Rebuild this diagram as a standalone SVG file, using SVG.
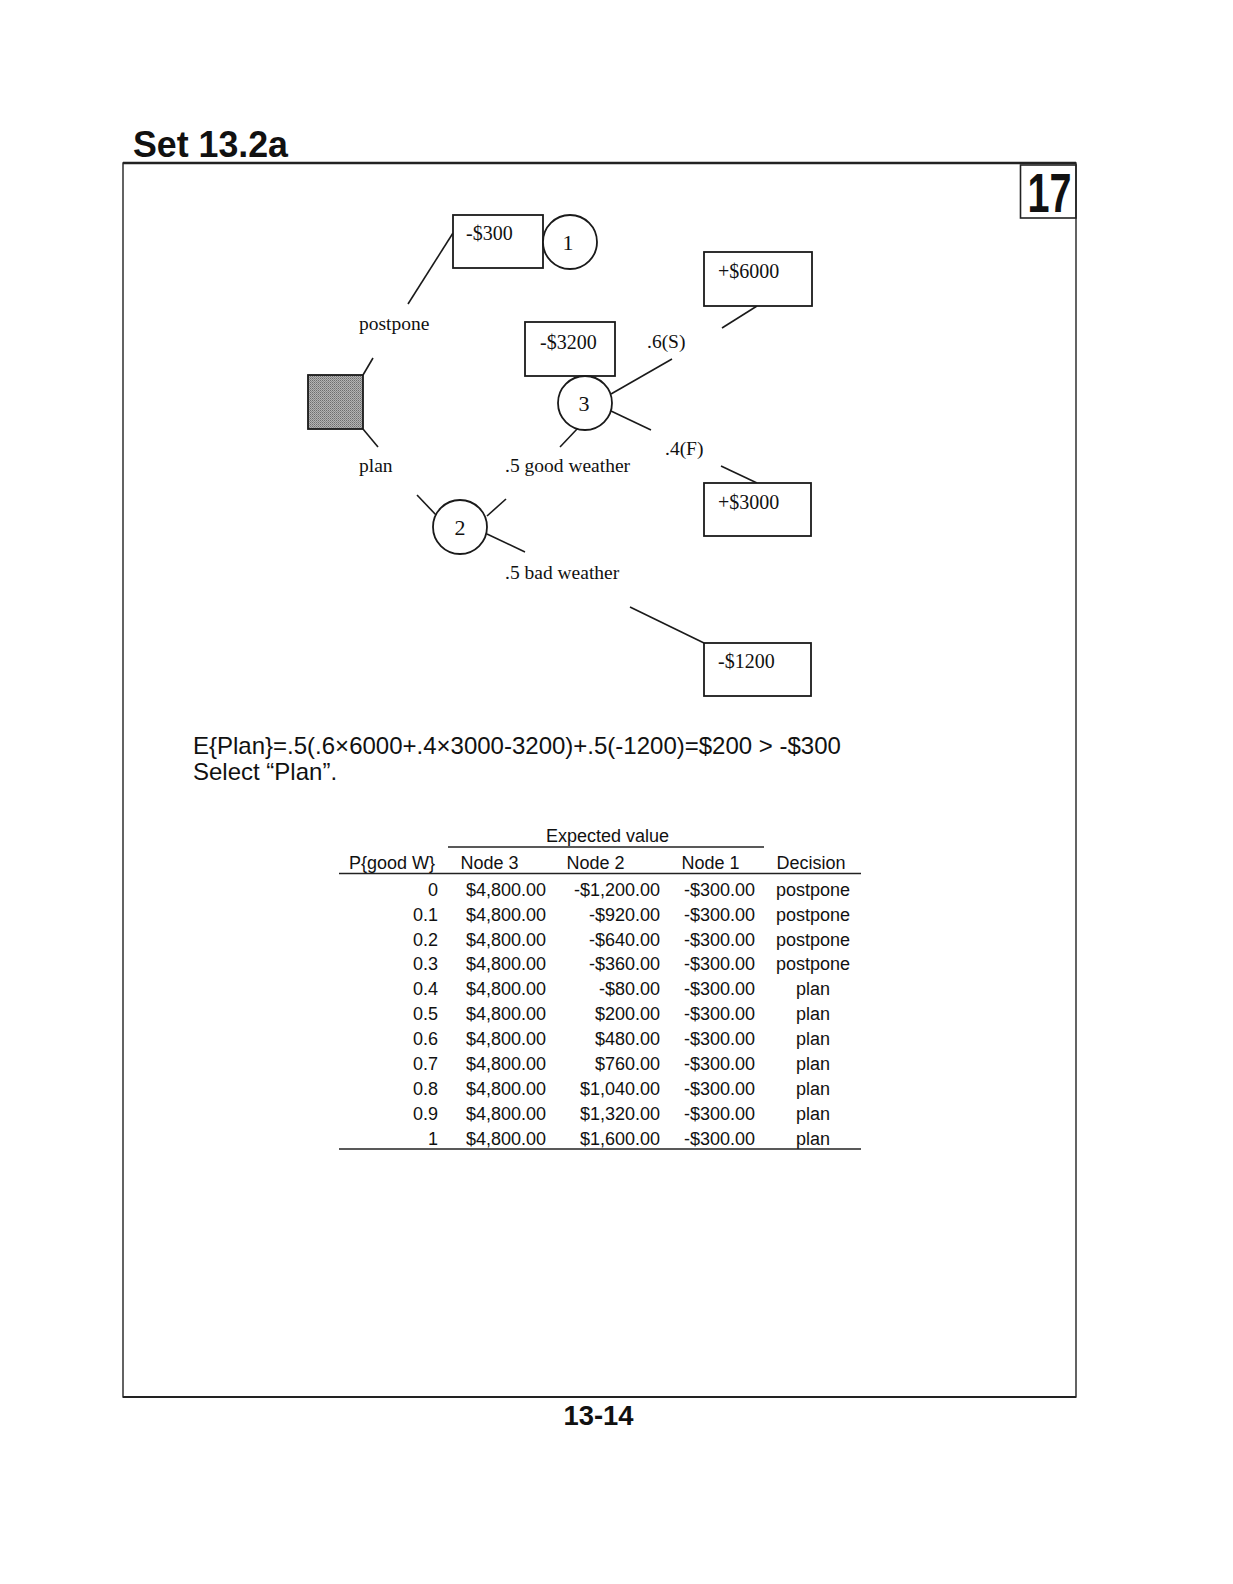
<svg xmlns="http://www.w3.org/2000/svg" width="1233" height="1584" viewBox="0 0 1233 1584">
<defs>
<style>
.ser{font-family:"Liberation Serif","Times New Roman",serif;fill:#111}
.val{font-size:20px}
.lab{font-size:19.5px}
.num{font-size:22px;text-anchor:middle}
.box{fill:#fff;stroke:#1a1a1a;stroke-width:1.8}
.ln{stroke:#1a1a1a;stroke-width:1.6;fill:none}
.san{font-family:"Liberation Sans",Arial,sans-serif;fill:#111}
.tb{font-size:18px}
.r{text-anchor:end}
.m{text-anchor:middle}
.frame{fill:none;stroke:#222;stroke-width:1.4}
</style>
<pattern id="dither" width="2" height="2" patternUnits="userSpaceOnUse">
<rect width="2" height="2" fill="#b4b4b4"/>
<rect width="1" height="1" fill="#6e6e6e"/>
<rect x="1" y="1" width="1" height="1" fill="#8a8a8a"/>
</pattern>
</defs>
<rect width="1233" height="1584" fill="#fff"/>

<g id="page">
<text class="san" x="133" y="157" font-size="37" font-weight="bold" textLength="155" lengthAdjust="spacingAndGlyphs">Set 13.2a</text>
<rect class="frame" x="123" y="163" width="953" height="1234"/>
<line x1="123" y1="163" x2="1076" y2="163" stroke="#222" stroke-width="2.4"/>
<line x1="123" y1="1397" x2="1076" y2="1397" stroke="#222" stroke-width="2"/>
<rect x="1020.5" y="165" width="55.5" height="53" fill="none" stroke="#222" stroke-width="1.6"/>
<text class="san" x="1027.5" y="211.5" font-size="56" font-weight="900" textLength="44" lengthAdjust="spacingAndGlyphs">17</text>
<text class="san" x="563.5" y="1425" font-size="28" font-weight="bold" textLength="70" lengthAdjust="spacingAndGlyphs">13-14</text>
</g>

<g id="connectors">
<line class="ln" x1="453" y1="233" x2="408" y2="304"/>
<line class="ln" x1="363" y1="375" x2="373" y2="358"/>
<line class="ln" x1="363" y1="429" x2="378" y2="447"/>
<line class="ln" x1="417" y1="495" x2="437" y2="516"/>
<line class="ln" x1="487" y1="516" x2="506" y2="499"/>
<line class="ln" x1="487" y1="534" x2="525" y2="552"/>
<line class="ln" x1="578" y1="428" x2="560" y2="447"/>
<line class="ln" x1="611" y1="394" x2="672" y2="359"/>
<line class="ln" x1="611" y1="411" x2="651" y2="430"/>
<line class="ln" x1="757" y1="306" x2="722" y2="328"/>
<line class="ln" x1="721" y1="466" x2="757" y2="483"/>
<line class="ln" x1="630" y1="607" x2="704" y2="643"/>
<text class="ser lab" x="359" y="330">postpone</text>
<text class="ser lab" x="359" y="472">plan</text>
<text class="ser lab" x="505" y="472">.5 good weather</text>
<text class="ser lab" x="505" y="579">.5 bad weather</text>
<text class="ser lab" x="647" y="348">.6(S)</text>
<text class="ser lab" x="665" y="455">.4(F)</text>
</g>

<g id="decision">
<rect x="308" y="375" width="55" height="54" fill="url(#dither)" stroke="#1a1a1a" stroke-width="1.8"/>
</g>

<g id="payoff-300">
<rect class="box" x="453" y="215" width="90" height="53"/>
<text class="ser val" x="466" y="240">-$300</text>
</g>
<g id="node1">
<circle class="box" cx="570" cy="242" r="27"/>
<text class="ser num" x="568" y="250">1</text>
</g>

<g id="payoff-3200">
<rect class="box" x="525" y="322" width="90" height="54"/>
<text class="ser val" x="540" y="349">-$3200</text>
</g>
<g id="node3">
<circle class="box" cx="585" cy="403" r="27"/>
<text class="ser num" x="584" y="411">3</text>
</g>

<g id="node2">
<circle class="box" cx="460" cy="527" r="27"/>
<text class="ser num" x="460" y="535">2</text>
</g>

<g id="payoff-6000">
<rect class="box" x="704" y="252" width="108" height="54"/>
<text class="ser val" x="718" y="278">+$6000</text>
</g>
<g id="payoff-3000">
<rect class="box" x="704" y="483" width="107" height="53"/>
<text class="ser val" x="718" y="509">+$3000</text>
</g>
<g id="payoff-1200">
<rect class="box" x="704" y="643" width="107" height="53"/>
<text class="ser val" x="718" y="668">-$1200</text>
</g>

<g id="equation">
<text class="san" x="193" y="754" font-size="24">E{Plan}=.5(.6×6000+.4×3000-3200)+.5(-1200)=$200 &gt; -$300</text>
<text class="san" x="193" y="780" font-size="24">Select “Plan”.</text>
</g>

<g id="table" class="san tb">
<text class="san tb" x="546" y="842">Expected value</text>
<line x1="448" y1="847" x2="764" y2="847" stroke="#222" stroke-width="1.4"/>
<text class="san tb" x="349" y="869">P{good W}</text>
<text class="san tb" x="460.5" y="869">Node 3</text>
<text class="san tb" x="566.5" y="869">Node 2</text>
<text class="san tb" x="681.5" y="869">Node 1</text>
<text class="san tb" x="776.5" y="869">Decision</text>
<line x1="339" y1="873.5" x2="861" y2="873.5" stroke="#222" stroke-width="1.4"/>

<text class="san tb r" x="438" y="895.7">0</text>
<text class="san tb r" x="546" y="895.7">$4,800.00</text>
<text class="san tb r" x="660" y="895.7">-$1,200.00</text>
<text class="san tb r" x="755" y="895.7">-$300.00</text>
<text class="san tb m" x="813" y="895.7">postpone</text>

<text class="san tb r" x="438" y="920.6">0.1</text>
<text class="san tb r" x="546" y="920.6">$4,800.00</text>
<text class="san tb r" x="660" y="920.6">-$920.00</text>
<text class="san tb r" x="755" y="920.6">-$300.00</text>
<text class="san tb m" x="813" y="920.6">postpone</text>

<text class="san tb r" x="438" y="945.5">0.2</text>
<text class="san tb r" x="546" y="945.5">$4,800.00</text>
<text class="san tb r" x="660" y="945.5">-$640.00</text>
<text class="san tb r" x="755" y="945.5">-$300.00</text>
<text class="san tb m" x="813" y="945.5">postpone</text>

<text class="san tb r" x="438" y="970.4">0.3</text>
<text class="san tb r" x="546" y="970.4">$4,800.00</text>
<text class="san tb r" x="660" y="970.4">-$360.00</text>
<text class="san tb r" x="755" y="970.4">-$300.00</text>
<text class="san tb m" x="813" y="970.4">postpone</text>

<text class="san tb r" x="438" y="995.3">0.4</text>
<text class="san tb r" x="546" y="995.3">$4,800.00</text>
<text class="san tb r" x="660" y="995.3">-$80.00</text>
<text class="san tb r" x="755" y="995.3">-$300.00</text>
<text class="san tb m" x="813" y="995.3">plan</text>

<text class="san tb r" x="438" y="1020.2">0.5</text>
<text class="san tb r" x="546" y="1020.2">$4,800.00</text>
<text class="san tb r" x="660" y="1020.2">$200.00</text>
<text class="san tb r" x="755" y="1020.2">-$300.00</text>
<text class="san tb m" x="813" y="1020.2">plan</text>

<text class="san tb r" x="438" y="1045.1">0.6</text>
<text class="san tb r" x="546" y="1045.1">$4,800.00</text>
<text class="san tb r" x="660" y="1045.1">$480.00</text>
<text class="san tb r" x="755" y="1045.1">-$300.00</text>
<text class="san tb m" x="813" y="1045.1">plan</text>

<text class="san tb r" x="438" y="1070">0.7</text>
<text class="san tb r" x="546" y="1070">$4,800.00</text>
<text class="san tb r" x="660" y="1070">$760.00</text>
<text class="san tb r" x="755" y="1070">-$300.00</text>
<text class="san tb m" x="813" y="1070">plan</text>

<text class="san tb r" x="438" y="1094.9">0.8</text>
<text class="san tb r" x="546" y="1094.9">$4,800.00</text>
<text class="san tb r" x="660" y="1094.9">$1,040.00</text>
<text class="san tb r" x="755" y="1094.9">-$300.00</text>
<text class="san tb m" x="813" y="1094.9">plan</text>

<text class="san tb r" x="438" y="1119.8">0.9</text>
<text class="san tb r" x="546" y="1119.8">$4,800.00</text>
<text class="san tb r" x="660" y="1119.8">$1,320.00</text>
<text class="san tb r" x="755" y="1119.8">-$300.00</text>
<text class="san tb m" x="813" y="1119.8">plan</text>

<text class="san tb r" x="438" y="1144.7">1</text>
<text class="san tb r" x="546" y="1144.7">$4,800.00</text>
<text class="san tb r" x="660" y="1144.7">$1,600.00</text>
<text class="san tb r" x="755" y="1144.7">-$300.00</text>
<text class="san tb m" x="813" y="1144.7">plan</text>
<line x1="339" y1="1149" x2="861" y2="1149" stroke="#222" stroke-width="1.4"/>
</g>
</svg>
